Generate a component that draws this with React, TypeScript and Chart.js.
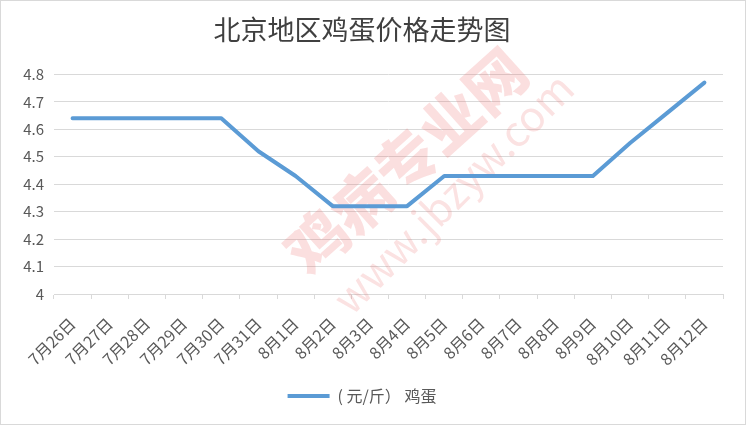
import { useEffect, useRef } from "react";
import { Chart, registerables } from "chart.js";

Chart.register(...registerables);

const chartTitle = "北京地区鸡蛋价格走势图";
const seriesLabel = "( 元/斤） 鸡蛋";
const categories = [
  "7月26日", "7月27日", "7月28日", "7月29日", "7月30日", "7月31日",
  "8月1日", "8月2日", "8月3日", "8月4日", "8月5日", "8月6日",
  "8月7日", "8月8日", "8月9日", "8月10日", "8月11日", "8月12日",
];
const eggPrices = [
  4.64, 4.64, 4.64, 4.64, 4.64, 4.52,
  4.43, 4.32, 4.32, 4.32, 4.43, 4.43,
  4.43, 4.43, 4.43, 4.55, 4.66, 4.77,
];
const yTickLabels = ["4", "4.1", "4.2", "4.3", "4.4", "4.5", "4.6", "4.7", "4.8"];
const watermarkMain = "鸡病专业网";
const watermarkUrl = "www.jbzyw.com";

const FONT = '"Noto Sans CJK SC", "Noto Sans", sans-serif';

const watermarkPlugin = {
  id: "watermark",
  beforeDatasetsDraw(chart: any) {
    const ctx = chart.ctx as CanvasRenderingContext2D;
    ctx.save();
    ctx.fillStyle = "rgba(236, 110, 110, 0.22)";
    ctx.textAlign = "center";
    ctx.textBaseline = "middle";
    ctx.translate(405, 160);
    ctx.rotate((-42 * Math.PI) / 180);
    ctx.font = `900 60px ${FONT}`;
    ctx.fillText(watermarkMain, 0, 0);
    ctx.restore();
    ctx.save();
    ctx.fillStyle = "rgba(236, 110, 110, 0.2)";
    ctx.textAlign = "center";
    ctx.textBaseline = "middle";
    ctx.translate(452, 192);
    ctx.rotate((-45 * Math.PI) / 180);
    ctx.font = `400 42px ${FONT}`;
    ctx.fillText(watermarkUrl, 0, 0);
    ctx.restore();
  },
};

export default function App() {
  const canvasRef = useRef<HTMLCanvasElement | null>(null);

  useEffect(() => {
    document.body.style.margin = "0";
    const canvas = canvasRef.current;
    if (!canvas) return;
    const chart = new Chart(canvas, {
      type: "line",
      data: {
        labels: categories,
        datasets: [
          {
            label: seriesLabel,
            data: eggPrices,
            borderColor: "#5B9BD5",
            backgroundColor: "#5B9BD5",
            borderWidth: 4,
            borderCapStyle: "round",
            borderJoinStyle: "round",
            pointRadius: 0,
            pointHoverRadius: 0,
            tension: 0,
            fill: false,
          },
        ],
      },
      options: {
        responsive: false,
        animation: false,
        layout: { padding: { left: 0, right: 22, top: 0, bottom: 10 } },
        plugins: {
          title: {
            display: true,
            text: chartTitle,
            color: "#404040",
            font: { family: FONT, size: 27, weight: "normal", lineHeight: 1.2 },
            padding: { top: 13, bottom: 28 },
          },
          legend: {
            display: true,
            position: "bottom",
            labels: {
              usePointStyle: true,
              pointStyle: "line",
              pointStyleWidth: 42,
              color: "#595959",
              font: { family: FONT, size: 16 },
              padding: 10,
            },
          },
          tooltip: { enabled: false },
        },
        scales: {
          x: {
            offset: true,
            grid: {
              display: true,
              drawOnChartArea: false,
              drawTicks: true,
              tickLength: 5,
              color: "#d9d9d9",
              offset: true,
            },
            border: { display: true, color: "#d9d9d9", width: 1 },
            ticks: {
              autoSkip: false,
              maxRotation: 45,
              minRotation: 45,
              padding: 15,
              color: "#595959",
              font: { family: FONT, size: 16 },
            },
            afterFit(scale: any) {
              scale.height = 84;
            },
          },
          y: {
            min: 4,
            max: 4.8,
            ticks: {
              stepSize: 0.1,
              padding: 10,
              color: "#595959",
              font: { family: FONT, size: 15 },
              callback: (_v: any, i: number) => yTickLabels[i],
            },
            grid: { color: "#d9d9d9", drawTicks: false },
            border: { display: false },
            afterFit(scale: any) {
              scale.width = 53;
            },
          },
        },
      },
      plugins: [watermarkPlugin],
    });
    return () => chart.destroy();
  }, []);

  return (
    <div
      style={{
        width: 746,
        height: 425,
        boxSizing: "border-box",
        border: "1px solid #d9d9d9",
        background: "#ffffff",
      }}
    >
      <canvas ref={canvasRef} width={744} height={423} style={{ display: "block" }} />
    </div>
  );
}
